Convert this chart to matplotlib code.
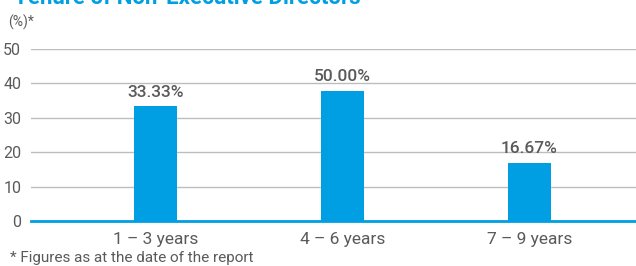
import matplotlib.pyplot as plt

categories = ["1 – 3 years", "4 – 6 years", "7 – 9 years"]
bar_heights = [33.3, 37.8, 16.9]
bar_labels = ["33.33%", "50.00%", "16.67%"]
y_ticks = [0, 10, 20, 30, 40, 50]

blue = "#009FE3"
grey_text = "#5a5a5a"

plt.rcParams['font.family'] = ['Roboto', 'DejaVu Sans']

fig = plt.figure(figsize=(6.36, 2.66), dpi=100)
ax = fig.add_axes([31 / 636, 1 - 221 / 266, 1 - 31 / 636, (221 - 49) / 266])

x = list(range(len(categories)))
bars = ax.bar(x, bar_heights, width=0.23, color=blue, zorder=3)
for b, lab in zip(bars, bar_labels):
    ax.annotate(lab, (b.get_x() + b.get_width() / 2, b.get_height()),
                xytext=(0, 5), textcoords="offset points",
                ha="center", va="bottom", fontsize=12.5,
                color=grey_text, fontweight="medium")

ax.set_xlim(-0.666, 2.57)
ax.set_ylim(0, 50)
ax.set_yticks(y_ticks)
ax.set_xticks(x)
ax.set_xticklabels(categories)
ax.tick_params(axis="y", length=0, pad=7, labelsize=11.5, labelcolor=grey_text)
ax.tick_params(axis="x", length=0, pad=8, labelsize=12.5, labelcolor=grey_text)

ax.grid(axis="y", color="#bdbdbd", linewidth=1.0, zorder=0)
for s in ["top", "right", "left"]:
    ax.spines[s].set_visible(False)
ax.spines["bottom"].set_color(blue)
ax.spines["bottom"].set_linewidth(2)
ax.spines["bottom"].set_zorder(4)

# title is cropped at the top edge in the source image
fig.text(14 / 636, 1 - 3.5 / 266, "Tenure of Non-Executive Directors",
         color=blue, fontsize=16, fontweight="bold", va="baseline")
fig.text(8 / 636, 1 - 27 / 266, "(%)*", color=grey_text, fontsize=10,
         va="baseline")
fig.text(10 / 636, 1 - 262 / 266, "* Figures as at the date of the report",
         color=grey_text, fontsize=11, va="baseline")

fig.savefig("out.png", dpi=100)
